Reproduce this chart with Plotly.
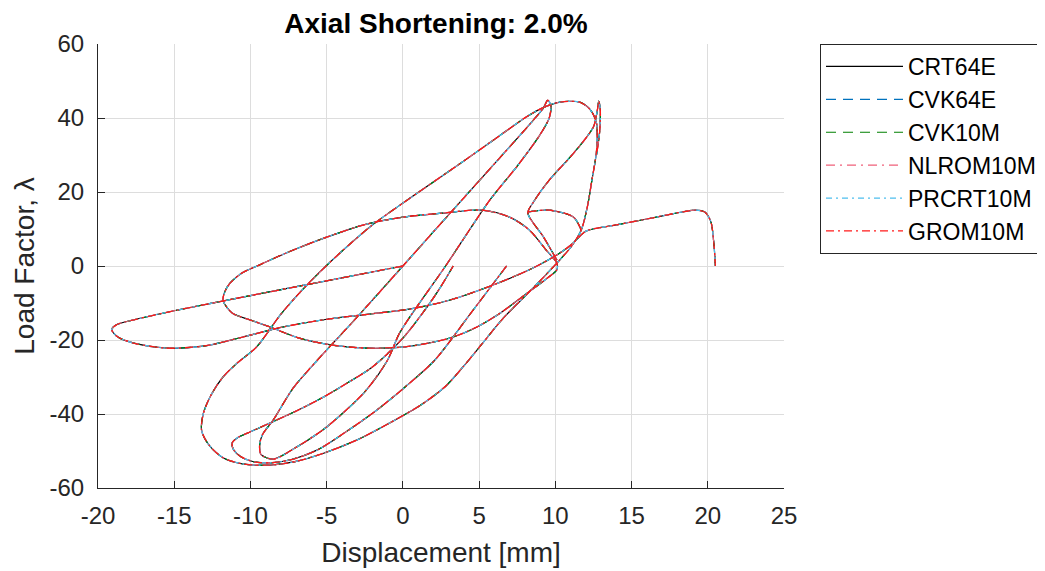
import plotly.graph_objects as go

# ---------------- data ----------------
series_names = ["CRT64E", "CVK64E", "CVK10M", "NLROM10M", "PRCRT10M", "GROM10M"]

# path through the origin along the shallow line, left loop, back, right peak, drop to 20.5 mm
a_x = [0, -5, -10, -15, -17.5, -18.8, -19.1, -18.7, -17.6, -15.5, -13, -10.5, -8, -5, -2, 0.5, 3.1, 6, 8.5,
       10.3, 11.2, 12, 14, 16.5, 18.3, 19.2, 19.8, 20.2, 20.4, 20.5]
a_y = [0, -4, -8, -12.1, -14.4, -15.9, -17.2, -19.2, -20.9, -22.2, -21.6, -19.2, -16.6, -14.4, -12.9, -11.6, -9.2,
       -5, -0.6, 3.5, 6.3, 9.4, 11.1, 13.1, 14.6, 15.1, 14.6, 12, 6, 0]

# upper wide loop
b_x = [-11.8, -11.5, -10.6, -9.4, -7.5, -5, -2.5, 0, 2.6, 5.2, 7, 8.3, 9.4, 10.1, 10.1, 9.4, 8, 6.4, 4.8, 3.3,
       1.5, 0, -2.4, -4.6, -6.8, -8.7, -10, -11.2, -11.8]
b_y = [-9.2, -5.5, -2, 0.3, 3.8, 7.8, 11.2, 13.2, 14.3, 15.1, 13.2, 9.7, 4.3, 0.8, -1, -3.5, -7.8, -12.7, -16.6,
       -19.2, -21, -21.9, -22.2, -21.4, -19.5, -16.5, -14.6, -12.7, -9.2]

# outer loop (left bottom tip to upper right arc)
c_x = [8.1, 9.2, 10.3, 11.6, 12.3, 12.7, 12.7, 12.4, 12.1, 11.7, 11, 10.1, 9, 7.8, 6.5, 5.2, 4, 2.8, 1.2, -0.9,
       -3, -5.2, -7, -8.7, -10.5, -11.8, -12.7, -13.2, -13.1, -12.6, -11.8, -10.8, -9.6, -8, -6.1, -4, -2, 0, 2,
       4, 6, 8.1]
c_y = [40.3, 42.8, 44.3, 44.3, 42.2, 38.6, 31, 23.2, 16, 9.7, 5, 0.8, -4, -9, -14.5, -21, -27, -32.5, -37.5,
       -42.5, -47, -50.6, -52.8, -53.8, -53.5, -51.8, -48.5, -44.5, -40, -35, -30, -26, -21.9, -13, -4.3, 4,
       11.1, 17, 22.7, 28.4, 34.2, 40.3]

# narrow loop through the origin
d_x = [-8.5, -7.2, -5.6, -3, 0, 3.1, 6, 8.3, 9.2, 9.5, 9.7, 9.6, 9, 7.5, 5.7, 2.8, -0.2, -1, -2.5, -5, -7,
       -8.5, -9.3, -9.4, -9.2, -8.5]
d_y = [-41.6, -33, -25.4, -13.8, 0, 14.3, 27.6, 38.2, 42.6, 44.8, 43.5, 40, 35.5, 27, 17.8, 0, -18, -25.4, -34,
       -43.5, -49, -52.2, -51, -48.5, -45.5, -41.6]

# unloading branch from 6.8 mm down to the bottom tip and back to 3.3 mm
e_x = [6.8, 4.5, 2.1, 0.2, -1.7, -3.8, -5.6, -7.3, -8.7, -9.8, -10.6, -11.1, -11.2, -10.8, -10, -8.7, -7, -5.2,
       -3.6, -2, 0, 1.6, 2.5, 3.3]
e_y = [0, -12.5, -25.4, -32.5, -38.9, -45, -49.7, -52.3, -53.2, -52.9, -51.6, -49.7, -47.8, -46.3, -44.8, -42.4,
       -39.2, -35.4, -31.5, -27.3, -19.5, -11, -5.5, 0]

# spike at 12.8 mm and the cusp near 8.2 mm
f_x = [10.1, 9.2, 8.2, 8.6, 9.6, 11.2, 12.5, 12.75, 12.85, 12.95, 12.9, 12.7]
f_y = [1.6, 8, 14.3, 17.5, 23.2, 30.5, 37.6, 42, 44.6, 42, 36, 30]

# small arc at the top of the cusp
g_x = [8.2, 9.6, 11.2, 11.7]
g_y = [14.6, 15.1, 13.2, 9.7]

x_ticks = [-20, -15, -10, -5, 0, 5, 10, 15, 20, 25]
y_ticks = [-60, -40, -20, 0, 20, 40, 60]

# ---------------- build ----------------
pieces_x = [a_x, b_x, c_x, d_x, e_x, f_x, g_x]
pieces_y = [a_y, b_y, c_y, d_y, e_y, f_y, g_y]
path_x, path_y = [], []
for px_, py_ in zip(pieces_x, pieces_y):
    path_x += px_ + [None]
    path_y += py_ + [None]

colors = ["#000000", "#0072BD", "#008000", "#F0607A", "#4DBEEE", "#FF1A1A"]
dashes = ["solid", "10px,7px", "10px,7px", "9px,5px,2px,5px", "6px,4px,2px,4px", "8px,4px,2px,4px"]
widths = [1.2, 1.1, 1.1, 1.1, 1.2, 1.3]

fig = go.Figure()
for name, col, dash, w in zip(series_names, colors, dashes, widths):
    fig.add_trace(go.Scatter(
        x=path_x, y=path_y, mode="lines", name=name, legendgroup=name,
        line=dict(color=col, dash=dash, width=w, shape="spline", smoothing=0.8),
        connectgaps=False,
    ))

# the page adds an 8 px body margin, so figure coords = screen coords - 8
OFF = 8
font_family = "Liberation Sans, Arial, Helvetica, sans-serif"
axis_common = dict(
    showgrid=True, gridcolor="#dddddd", gridwidth=1,
    showline=True, linecolor="#262626", linewidth=1,
    ticks="inside", ticklen=7, tickcolor="#262626",
    zeroline=False, tickfont=dict(size=24, color="#262626", family=font_family),
    mirror=False, automargin=False,
)

fig.update_layout(
    width=1045, height=571,
    margin=dict(l=98 - OFF, r=261 + OFF, t=44 - OFF, b=83 + OFF, autoexpand=False),
    paper_bgcolor="white", plot_bgcolor="white",
    font=dict(family=font_family, color="#262626"),
    title=dict(text="<b>Axial Shortening: 2.0%</b>", x=(436 - OFF) / 1045, xanchor="center",
               y=1 - (23 - OFF) / 571, yanchor="middle", yref="container",
               font=dict(size=28, color="#000000", family=font_family)),
    xaxis=dict(range=[-20, 25], tickvals=x_ticks, ticktext=[str(v) for v in x_ticks],
               title=dict(text="Displacement [mm]", font=dict(size=28, color="#262626"), standoff=14),
               ticklabelstandoff=6, **axis_common),
    yaxis=dict(range=[-60, 60], tickvals=y_ticks, ticktext=[str(v) for v in y_ticks],
               title=dict(text="Load Factor, λ", font=dict(size=28, color="#262626"), standoff=6),
               ticklabelstandoff=8, **axis_common),
    legend=dict(x=(820 - 98) / 686, xanchor="left", y=1.0, yanchor="top",
                bordercolor="#262626", borderwidth=1, bgcolor="white",
                font=dict(size=23, color="#000000", family=font_family),
                tracegroupgap=0, itemwidth=77),
    showlegend=True,
)

fig.write_html("out.html")
